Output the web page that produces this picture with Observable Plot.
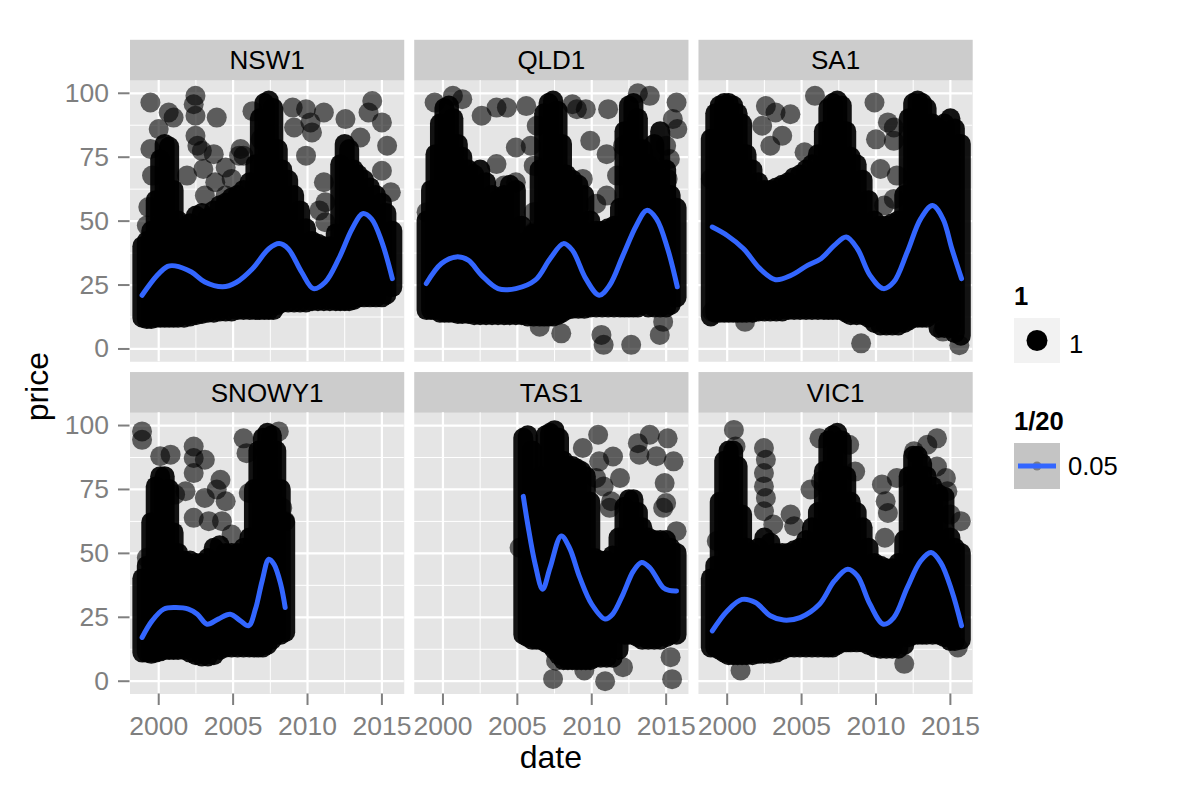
<!DOCTYPE html>
<html>
<head>
<meta charset="utf-8">
<script src="https://cdn.jsdelivr.net/npm/d3@7"></script>
<script src="https://cdn.jsdelivr.net/npm/@observablehq/plot@0.6"></script>
<style>
html, body { margin: 0; padding: 0; background: #ffffff; }
#wrap { position: relative; width: 1200px; height: 800px; font-family: "Liberation Sans", Arial, sans-serif; }
#wrap > svg { position: absolute; left: 0; top: 0; }
</style>
</head>
<body>
<div id="wrap"></div>
<script>
// ---------------- data ----------------
const regions = ["NSW1", "QLD1", "SA1", "SNOWY1", "TAS1", "VIC1"];
const xTicks = [2000, 2005, 2010, 2015];
const xMinor = [2002.5, 2007.5, 2012.5];
const yTicks = [0, 25, 50, 75, 100];
const yMinor = [12.5, 37.5, 62.5, 87.5];

// dense core of the scatter: [date, lowest price, highest price] of the overlapping points
const nswCore = [[1998.9,12,40],[1999.2,11.5,42],[1999.5,11.5,46],[1999.8,12,58],[2000.1,12,74],[2000.4,12,80],[2000.7,12,79],[2001.0,12,62],[2001.3,12,50],[2001.7,12,47],[2002.1,12.5,49],[2002.5,13,52],[2002.9,13.5,53],[2003.3,14,51],[2003.7,14,54],[2004.1,14.5,56],[2004.5,14.5,57],[2004.9,14.5,59],[2005.3,15,60],[2005.7,15,62],[2006.1,15,65],[2006.5,15,72],[2006.8,15,90],[2007.1,15,96],[2007.4,15,97],[2007.7,15,94],[2008.0,17,78],[2008.3,18,70],[2008.7,18,66],[2009.1,18,60],[2009.5,18,54],[2009.9,18,47],[2010.3,18.5,42],[2010.7,18.5,41],[2011.1,18.5,40],[2011.5,18.5,40],[2011.9,18.5,45],[2012.2,18.5,72],[2012.5,18.5,80],[2012.8,18.5,78],[2013.1,19,70],[2013.4,20,68],[2013.8,20,66],[2014.2,20,63],[2014.6,20,60],[2015.0,20,57],[2015.3,21,53],[2015.7,24,46]];
const qldCore = [[1998.9,15,50],[1999.2,15,62],[1999.5,15,76],[1999.8,14,88],[2000.1,14,94],[2000.4,14,95],[2000.7,14,90],[2001.0,13.5,80],[2001.3,13.5,75],[2001.7,13.5,70],[2002.1,13,68],[2002.5,13,70],[2002.9,13,65],[2003.3,13,60],[2003.7,13,58],[2004.1,13,60],[2004.5,13,64],[2004.9,13,62],[2005.3,13,48],[2005.7,12.5,42],[2006.1,12.5,45],[2006.5,12.5,70],[2006.8,12.5,92],[2007.1,12.5,96],[2007.4,12.5,97],[2007.7,13,93],[2008.0,14,80],[2008.3,15,68],[2008.7,15.5,66],[2009.1,15.5,64],[2009.5,15.5,60],[2009.9,16,50],[2010.3,16,46],[2010.7,16,46],[2011.1,16,47],[2011.5,16,48],[2011.9,16,55],[2012.2,16,85],[2012.5,16,95],[2012.8,16,96],[2013.1,16,90],[2013.4,17,78],[2013.8,16,72],[2014.2,16,80],[2014.6,16,85],[2015.0,16,70],[2015.3,17,60],[2015.7,20,55]];
const saCore = [[1998.9,12.5,82],[1999.2,14,92],[1999.5,14,95],[1999.8,14,96],[2000.1,14,96],[2000.4,14,95],[2000.7,14,92],[2001.0,14,88],[2001.3,14,76],[2001.7,14,70],[2002.1,14.5,65],[2002.5,14.5,62],[2002.9,14.5,62],[2003.3,14.5,63],[2003.7,14.5,64],[2004.1,15,65],[2004.5,15,67],[2004.9,15,68],[2005.3,15,70],[2005.7,15,72],[2006.1,15,76],[2006.5,15,85],[2006.8,15,94],[2007.1,15,96],[2007.4,15,97],[2007.7,15,95],[2008.0,14,85],[2008.3,13,75],[2008.7,13,72],[2009.1,13,66],[2009.5,12,58],[2009.9,10,50],[2010.3,9,48],[2010.7,9,48],[2011.1,9,49],[2011.5,9,50],[2011.9,10,60],[2012.2,11,90],[2012.5,12,96],[2012.8,12,97],[2013.1,12,96],[2013.4,12,94],[2013.8,14,88],[2014.2,8,86],[2014.6,8,88],[2015.0,8,90],[2015.3,6,86],[2015.7,5,80]];
const snowyCore = [[1998.9,11,40],[1999.2,11,45],[1999.5,10.5,62],[1999.8,11,76],[2000.1,11.5,80],[2000.4,12,80],[2000.7,12,75],[2001.0,12,58],[2001.3,12,50],[2001.7,12,47],[2002.1,11,47],[2002.5,10,46],[2002.9,9.5,46],[2003.3,9.5,48],[2003.7,10,52],[2004.1,12,53],[2004.5,13,50],[2004.9,13,50],[2005.3,13,50],[2005.7,13,52],[2006.1,13,56],[2006.4,13,75],[2006.7,13,90],[2007.0,13,95],[2007.3,14,97],[2007.6,16,96],[2007.9,18,90],[2008.2,18,75],[2008.5,19,62]];
const tasCore = [[2005.4,18,95],[2005.7,17,96],[2006.0,16,90],[2006.3,16,72],[2006.6,16,80],[2006.9,15,96],[2007.2,14,97],[2007.5,12,98],[2007.8,10,95],[2008.1,8,86],[2008.4,8,84],[2008.7,8,84],[2009.0,8,83],[2009.3,8,82],[2009.6,8,80],[2009.9,8,70],[2010.2,9,48],[2010.6,9,47],[2011.0,9,47],[2011.4,9,49],[2011.8,12,56],[2012.2,18,68],[2012.5,18,71],[2012.8,18,71],[2013.1,17,66],[2013.4,16,60],[2013.8,16,56],[2014.2,16,55],[2014.6,16,55],[2015.0,17,55],[2015.3,18,52],[2015.7,18,50]];
const vicCore = [[1998.9,13,40],[1999.2,13,45],[1999.5,12,70],[1999.8,11,86],[2000.1,10,90],[2000.4,10,90],[2000.7,10,84],[2001.0,10,65],[2001.3,10,52],[2001.7,10,50],[2002.1,10.5,52],[2002.5,10.5,56],[2002.9,10.5,54],[2003.3,11,50],[2003.7,12,50],[2004.1,13,50],[2004.5,13,51],[2004.9,13,52],[2005.3,13,55],[2005.7,13,60],[2006.1,13,66],[2006.5,13,82],[2006.8,13,94],[2007.1,13,96],[2007.4,14,97],[2007.7,15,94],[2008.0,15,80],[2008.3,15,70],[2008.7,15,66],[2009.1,15,60],[2009.5,14,52],[2009.9,13,46],[2010.3,12.5,45],[2010.7,12.5,44],[2011.1,12.5,44],[2011.5,12.5,46],[2011.9,14,55],[2012.2,17,80],[2012.5,18,88],[2012.8,18,88],[2013.1,18,85],[2013.4,18,80],[2013.8,18,76],[2014.2,18,73],[2014.6,17,72],[2015.0,15.5,56],[2015.3,15.5,52],[2015.7,16,50]];

// scattered individual points: [date, price]
const nswPts = [[1999.44,96.4],[2000.67,92.5],[2001.0,90.5],[2002.47,99],[2002.35,95.7],[2002.47,91.2],[2003.9,90.5],[2000.0,86],[2002.47,83.4],[2002.6,79.5],[2002.9,77.5],[2003.7,76.2],[1999.44,78.2],[1999.55,67.8],[2001.9,67.8],[2003.0,70.4],[2004.5,71],[2003.8,65.2],[2004.9,66.5],[2005.7,75.6],[2005.5,78.2],[2006.3,93],[2006.85,82],[2009.0,94.4],[2009.9,93.8],[2011.1,92.5],[2010.2,88.6],[2009.1,86.6],[2010.3,84.7],[2009.9,75.6],[2011.1,65.2],[2011.2,57.4],[2010.8,54.2],[2011.2,49.6],[2012.55,89.9],[2014.35,97],[2014.1,92.5],[2015.0,88.6],[2015.35,79.5],[2013.55,82.7],[2015.0,69.7],[2015.6,61.3],[1999.3,55.5],[1999.2,48.3],[2004.5,60],[2003.1,60],[2005.4,75.6]];
const qldPts = [[1999.44,96.4],[2000.67,99],[2001.3,97.7],[2002.6,91.2],[2003.6,94.4],[2004.3,94.4],[2005.6,95],[2006.3,87.3],[2008.7,95.7],[2009.0,93.8],[2009.6,93.8],[2011.1,93.8],[2009.9,81.4],[2011.0,76.2],[2004.9,78.8],[2005.9,79.5],[2003.6,72.3],[2006.1,71.7],[2009.4,66.5],[2004.1,63.9],[2004.9,65.2],[2011.7,67.8],[2010.3,56.8],[2011.0,60],[2006.1,53.5],[2006.1,45.7],[2013.1,100],[2013.9,99],[2015.7,96.4],[2015.45,89.9],[2015.75,86],[2015.0,79.5],[2015.25,74.3],[2015.1,66.5],[2012.1,79.5],[2007.95,6.1],[2010.65,5.5],[2010.8,1.6],[2012.65,1.6],[2014.57,5.5],[2014.8,10.6],[2006.5,8.7],[1998.9,53.5]];
const saPts = [[2009.0,2.2],[2010.8,88.6],[2011.2,86.6],[2010.0,82],[2009.9,96.4],[2005.9,99],[2002.6,95],[2003.25,92.5],[2004.25,91.8],[2002.35,87.3],[2011.2,81.4],[2010.3,70.4],[2011.4,67.8],[2011.2,58.7],[2010.55,56.1],[2002.9,79.5],[2003.7,83.4],[2005.2,76.9],[1998.9,66.5],[2001.2,10.6],[1999.0,14.5],[2015.0,12],[2015.6,1.5],[2014.5,6.8]];
const snowyPts = [[1998.88,97.7],[1998.88,94.4],[2000.1,88],[2000.8,88.6],[2002.35,91.8],[2002.35,87.3],[2003.1,86.6],[2002.35,81.4],[2005.7,95],[2005.9,89.2],[2004.15,78.8],[2003.9,75],[2004.5,70.4],[2003.1,71.7],[2001.8,74.3],[2002.35,63.9],[2003.36,62.6],[2004.25,62.6],[2004.9,57.4],[2006.05,73.6],[2008.07,97.7],[2008.5,62.6],[2008.3,67.8],[1999.2,48.3],[2001.1,73]];
const tasPts = [[2010.43,96.4],[2009.4,91.2],[2011.43,87.9],[2010.5,86],[2010.3,79.5],[2011.9,79.5],[2010.8,76.2],[2011.3,70.4],[2011.2,67.8],[2013.1,93.1],[2013.9,96.4],[2015.1,95],[2013.2,88.6],[2014.35,88],[2015.5,86],[2014.9,77.5],[2015.0,69.7],[2015.7,58.7],[2014.8,67.8],[2005.15,52.2],[2007.6,8],[2007.4,0.9],[2010.9,0],[2015.4,0.8],[2015.3,9.4],[2012.1,5.5],[2009.5,4.2]];
const vicPts = [[2000.45,98.3],[2000.56,91.8],[2002.47,91.2],[2002.6,86.6],[2002.47,81.4],[2002.47,76.2],[2002.6,71.7],[2002.47,66.5],[2004.26,65.2],[2004.5,60.6],[2003.1,61.3],[2006.2,95],[2008.2,92.5],[2008.6,82],[2005.6,75],[2006.3,78.2],[2010.4,76.9],[2011.4,79.5],[2010.65,70.4],[2010.8,65.8],[2010.6,56.1],[2012.55,89.9],[2013.45,92.5],[2014.1,95],[2014.1,84],[2014.7,79.5],[2014.8,74.3],[2015.7,62.6],[2015.0,65.2],[2000.9,4.2],[2011.9,6.8],[2015.5,13.2],[1999.3,54.8]];

// loess smooth (span 1/20): [date, price]
const nswSmooth = [[1998.88,21],[1999.9,28.8],[2000.6,32.3],[2001.1,32.5],[2002.2,30.1],[2003.1,26.2],[2004.3,24.3],[2005.2,26],[2006.3,31.4],[2007.4,39.2],[2008.1,41.2],[2008.7,39.2],[2009.6,30.1],[2010.4,23.6],[2011.2,26.2],[2012.1,35.3],[2013.0,47],[2013.7,52.9],[2014.3,50.9],[2015.0,41.8],[2015.7,27.5]];
const qldSmooth = [[1998.88,25.6],[1999.9,33.4],[2000.9,36],[2001.7,34.7],[2002.6,28.8],[2003.7,23.6],[2004.9,23.6],[2006.2,26.9],[2007.2,35.3],[2008.1,41.2],[2008.7,38.6],[2009.6,27.5],[2010.5,21],[2011.2,24.9],[2012.1,36.6],[2013.0,48.3],[2013.7,54.2],[2014.35,50.9],[2015.1,39.2],[2015.75,24.3]];
const saSmooth = [[1999.0,47.7],[2000,44.4],[2001.1,39.2],[2002.2,31.4],[2003.25,27.1],[2004.3,28.8],[2005.4,32.7],[2006.3,35.3],[2007.2,40.5],[2008.0,43.8],[2008.75,39.2],[2009.6,28.8],[2010.5,23.6],[2011.2,26.2],[2012.1,37.9],[2013.0,50.9],[2013.8,56.1],[2014.5,50.9],[2015.1,39.2],[2015.75,27.5]];
const snowySmooth = [[1998.88,17.1],[1999.55,23.6],[2000.34,28.2],[2001.1,28.8],[2002.0,28.2],[2002.6,26.2],[2003.25,22.3],[2004.0,24.3],[2004.8,26.2],[2005.5,23.6],[2006.05,21.7],[2006.5,28.2],[2006.95,39.2],[2007.4,47.7],[2007.75,45.7],[2008.2,37.9],[2008.5,28.8]];
const tasSmooth = [[2005.4,72.3],[2005.7,61.3],[2006.2,45.7],[2006.7,36],[2007.2,44.4],[2007.95,56.8],[2008.5,52.2],[2009.2,40.5],[2010.0,30.1],[2010.9,24.3],[2011.4,26.2],[2012.1,34],[2012.8,43.1],[2013.35,46.4],[2013.9,44.4],[2014.8,36.6],[2015.2,35.5],[2015.7,35.3]];
const vicSmooth = [[1999.0,19.7],[2000,27.5],[2001.0,32],[2001.9,30.8],[2002.9,25.6],[2003.8,23.9],[2004.9,24.9],[2006.2,30.1],[2007.2,39.2],[2008.1,43.8],[2008.75,41.2],[2009.6,30.1],[2010.5,22.3],[2011.2,24.9],[2012.1,36.6],[2013.0,47],[2013.7,50.3],[2014.35,46.4],[2015.1,35.3],[2015.75,21.7]];

const legendPointTitle = "1", legendPointLabel = "1";
const legendLineTitle = "1/20", legendLineLabel = "0.05";

// ---------------- tables ----------------
const cores = [nswCore, qldCore, saCore, snowyCore, tasCore, vicCore];
const pts = [nswPts, qldPts, saPts, snowyPts, tasPts, vicPts];
const smooths = [nswSmooth, qldSmooth, saSmooth, snowySmooth, tasSmooth, vicSmooth];
const pos = (i) => ({col: i % 3, row: Math.floor(i / 3)});
const coreRows = regions.flatMap((r, i) => cores[i].map(([date, lo, hi]) => ({region: r, ...pos(i), date, lo, hi})));
const pointRows = regions.flatMap((r, i) => pts[i].map(([date, price]) => ({region: r, ...pos(i), date, price})));
const smoothRows = regions.flatMap((r, i) => smooths[i].map(([date, price]) => ({region: r, ...pos(i), date, price})));
const stripRows = regions.map((r, i) => ({region: r, ...pos(i)}));

// ---------------- layout ----------------
const W = 1200, H = 800;
const mL = 129.5, mR = W - 972.2, mT = 80, mB = H - 693.5;
const padX = 10 / 284.2, padY = 51 / 332.2;
const stepY = (H - mT - mB) / (2 - padY);
const bwY = stepY * (1 - padY);
const stripH = 40.7;
const FONT = "'Liberation Sans', Arial, sans-serif";

const plot = Plot.plot({
  width: W, height: H,
  marginLeft: mL, marginRight: mR, marginTop: mT, marginBottom: mB,
  style: {background: "transparent", fontFamily: FONT, fontSize: "26px", overflow: "visible"},
  fx: {domain: [0, 1, 2], paddingInner: padX, paddingOuter: 0, round: false, axis: null, label: null},
  fy: {domain: [0, 1], paddingInner: padY, paddingOuter: 0, round: false, axis: null, label: null},
  x: {domain: [1998.07, 2016.5], label: null},
  y: {domain: [-5, 105], label: null},
  marks: [
    Plot.frame({fill: "#E5E5E5"}),
    Plot.frame({fill: "#CCCCCC", insetTop: -stripH, insetBottom: bwY}),
    Plot.gridX({ticks: xMinor, stroke: "#FFFFFF", strokeOpacity: 1, strokeWidth: 1}),
    Plot.gridY({ticks: yMinor, stroke: "#FFFFFF", strokeOpacity: 1, strokeWidth: 1}),
    Plot.gridX({ticks: xTicks, stroke: "#FFFFFF", strokeOpacity: 1, strokeWidth: 2.2}),
    Plot.gridY({ticks: yTicks, stroke: "#FFFFFF", strokeOpacity: 1, strokeWidth: 2.2}),
    Plot.ruleX(coreRows, {x: "date", y1: "lo", y2: "hi", fx: "col", fy: "row", stroke: "#000000", strokeWidth: 20, strokeLinecap: "round", strokeOpacity: 0.92}),
    Plot.dot(pointRows, {x: "date", y: "price", fx: "col", fy: "row", r: 10, fill: "#000000", fillOpacity: 0.6}),
    Plot.line(smoothRows, {x: "date", y: "price", fx: "col", fy: "row", z: "region", stroke: "#3366FF", strokeWidth: 5, curve: "catmull-rom"}),
    Plot.text(stripRows, {fx: "col", fy: "row", text: "region", frameAnchor: "top", lineAnchor: "middle", dy: -19.5, fontSize: 26, fill: "#000000"}),
    Plot.axisX({ticks: xTicks, tickFormat: (d) => String(d), tickSize: 11.5, tickPadding: 11, fontSize: 26.5, color: "#7F7F7F", strokeWidth: 2, label: null}),
    Plot.axisY({ticks: yTicks, tickSize: 11.5, tickPadding: 9.5, fontSize: 26.5, color: "#7F7F7F", strokeWidth: 2, label: null})
  ]
});
const wrap = document.getElementById("wrap");
wrap.appendChild(plot);

// ---------------- axis titles and legend ----------------
const ov = d3.select(wrap).append("svg")
  .attr("width", W).attr("height", H)
  .style("pointer-events", "none")
  .attr("font-family", FONT);
ov.append("text").attr("x", 550.9).attr("y", 768).attr("text-anchor", "middle")
  .attr("font-size", 32).attr("fill", "#000").text("date");
ov.append("text").attr("transform", "translate(48,386.7) rotate(-90)").attr("text-anchor", "middle")
  .attr("font-size", 32).attr("fill", "#000").text("price");

ov.append("text").attr("x", 1014).attr("y", 305).attr("font-size", 25.6).attr("font-weight", "bold").text(legendPointTitle);
ov.append("rect").attr("x", 1014).attr("y", 318).attr("width", 46).attr("height", 45).attr("fill", "#F2F2F2");
ov.append("circle").attr("cx", 1037).attr("cy", 340.5).attr("r", 10.5).attr("fill", "#000");
ov.append("text").attr("x", 1069).attr("y", 352.5).attr("font-size", 25.6).text(legendPointLabel);

ov.append("text").attr("x", 1014).attr("y", 430).attr("font-size", 25.6).attr("font-weight", "bold").text(legendLineTitle);
ov.append("rect").attr("x", 1014).attr("y", 443).attr("width", 46).attr("height", 46).attr("fill", "#C4C4C4");
ov.append("circle").attr("cx", 1037).attr("cy", 466).attr("r", 4.5).attr("fill", "#7F7F7F");
ov.append("line").attr("x1", 1018).attr("x2", 1056).attr("y1", 466).attr("y2", 466).attr("stroke", "#3366FF").attr("stroke-width", 5);
ov.append("text").attr("x", 1068).attr("y", 475).attr("font-size", 25.6).text(legendLineLabel);
</script>
</body>
</html>
